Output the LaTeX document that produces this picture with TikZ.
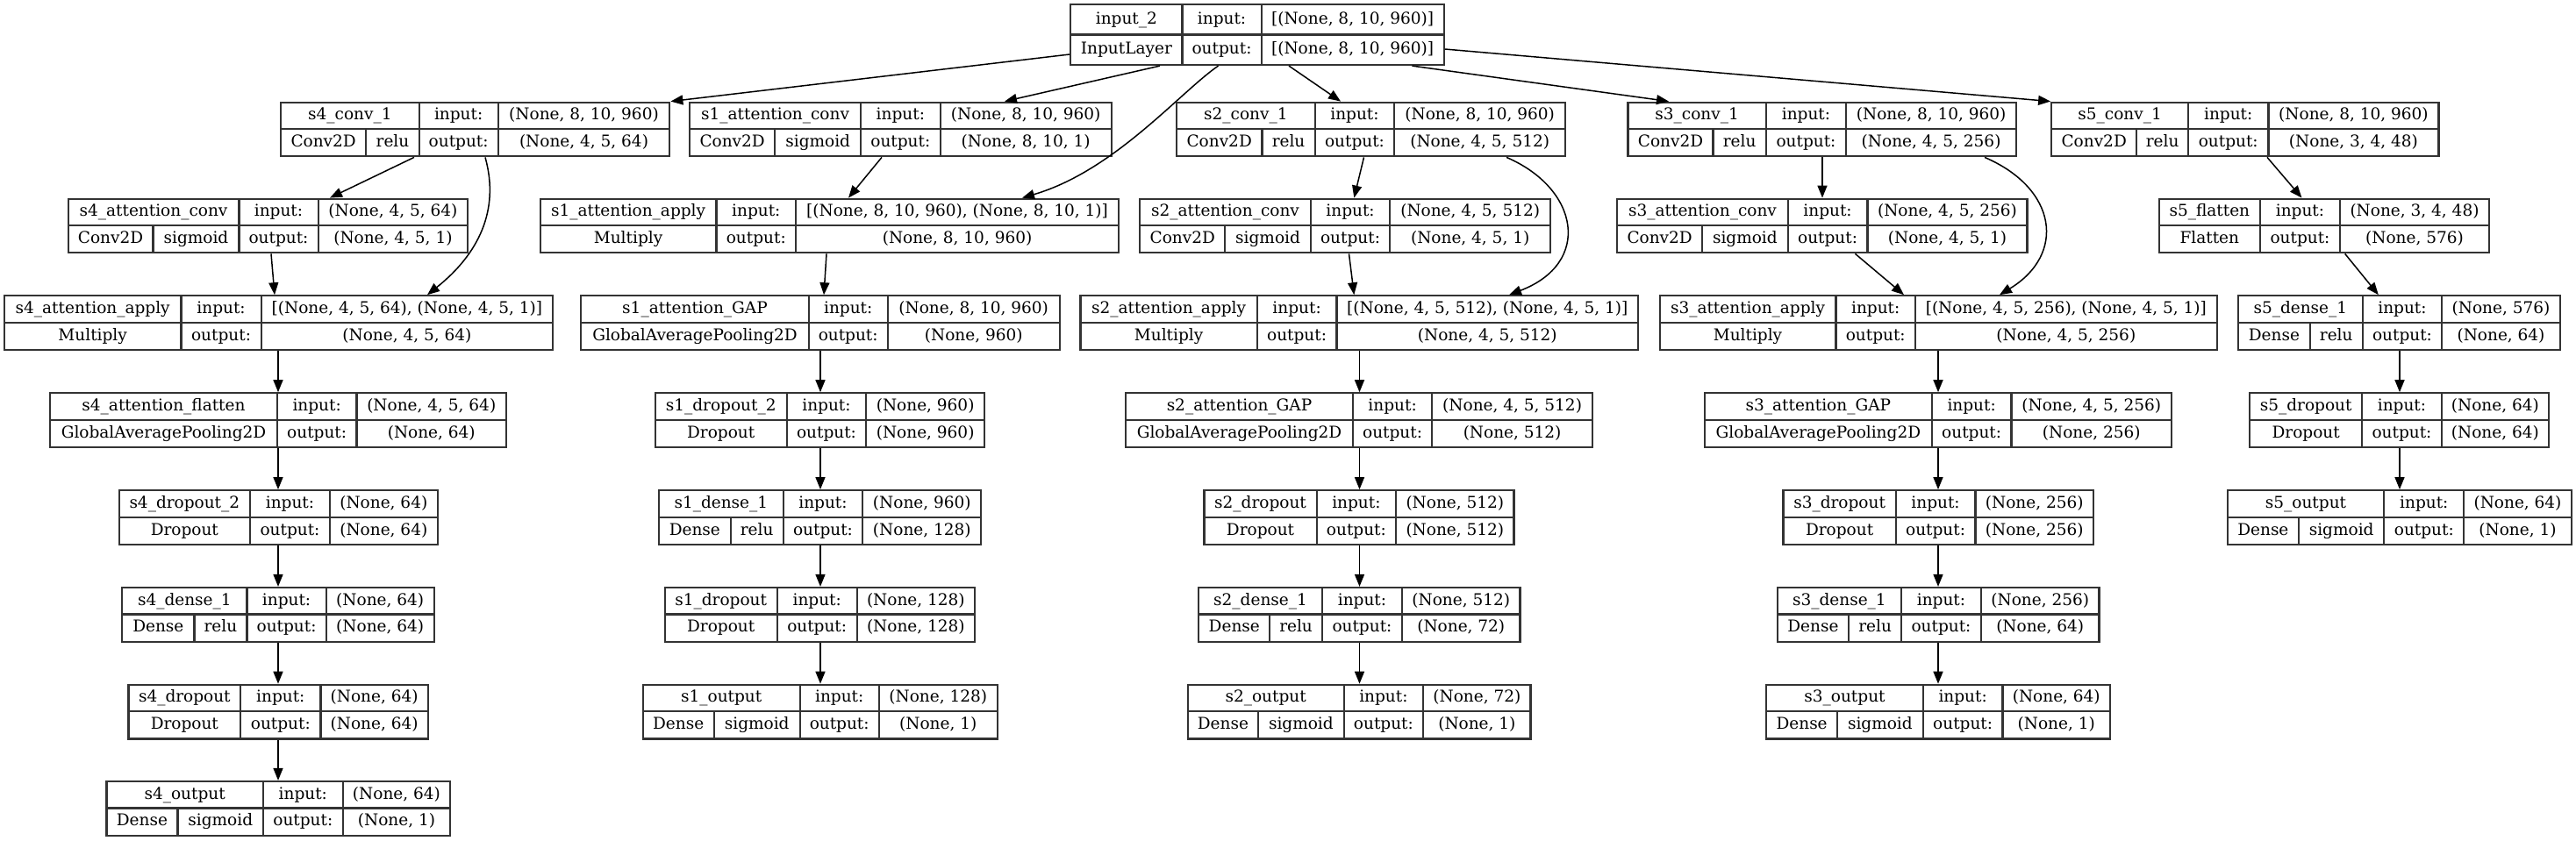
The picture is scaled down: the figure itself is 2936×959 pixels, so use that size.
\documentclass[tikz,border=0pt]{standalone}
\usepackage{fontspec}
\setmainfont{DejaVu Serif}
\usetikzlibrary{arrows.meta,fit}
\tikzset{
  kbox/.style={draw=black!80, line width=1.1pt, inner sep=0pt},
  kline/.style={draw=black!80, line width=1.1pt},
  ktext/.style={inner sep=0pt, font=\fontsize{9.25}{10}\selectfont, text=black, text height=7pt, text depth=2.2pt},
  edge/.style={line width=0.75pt, -{Triangle[length=7pt,width=5.5pt]}},
}
\newcommand\kH{61.6}
\newcommand\kMidOff{30.5}
\newcommand\kbox[6]{%
  \def\kA{#2}\def\kT{#3}\def\kB{#4}\def\kC{#5}\def\kE{#6}%
  \pgfmathsetmacro\kM{#3+\kMidOff}%
  \pgfmathsetmacro\kBot{#3+\kH}%
  \node[kbox, fit={(#2,#3) (#6,\kBot)}] (#1) {};
  \draw[kline] (#2,\kM) -- (#6,\kM) (#4,#3) -- (#4,\kBot) (#5,#3) -- (#5,\kBot);
}
\newcommand\ktxt[3]{%
  \pgfmathsetmacro\kyA{(\kT+\kM)/2}\pgfmathsetmacro\kyB{(\kM+\kBot)/2}%
  \node[ktext] at ({(\kA+\kB)/2},\kyA) {#1};
  \node[ktext] at ({(\kB+\kC)/2},\kyA) {input:};
  \node[ktext] at ({(\kC+\kE)/2},\kyA) {#2};
  \node[ktext] at ({(\kB+\kC)/2},\kyB) {output:};
  \node[ktext] at ({(\kC+\kE)/2},\kyB) {#3};
}
\newcommand\ktype[1]{\node[ktext] at ({(\kA+\kB)/2},\kyB) {#1};}
\newcommand\ktypeact[3]{%
  \draw[kline] (#1,\kM) -- (#1,\kBot);
  \node[ktext] at ({(\kA+#1)/2},\kyB) {#2};
  \node[ktext] at ({(#1+\kB)/2},\kyB) {#3};
}
\begin{document}
\begin{tikzpicture}[x=0.5pt,y=-0.5pt]
\useasboundingbox (0,0) rectangle (2936,959);
% ---------- row 0
\renewcommand\kH{69}\renewcommand\kMidOff{34.5}
\kbox{in2}{1220.2}{5}{1347.5}{1437.6}{1645.6}
\ktxt{input\_2}{[(None, 8, 10, 960)]}{[(None, 8, 10, 960)]}\ktype{InputLayer}
\renewcommand\kH{61.6}\renewcommand\kMidOff{30.5}
% ---------- row 1
\kbox{s4c1}{320}{116.7}{477.7}{567.7}{763.3}
\ktxt{s4\_conv\_1}{(None, 8, 10, 960)}{(None, 4, 5, 64)}\ktypeact{417.3}{Conv2D}{relu}
\kbox{s1ac}{786}{116.7}{981.1}{1071.6}{1266.7}
\ktxt{s1\_attention\_conv}{(None, 8, 10, 960)}{(None, 8, 10, 1)}\ktypeact{883.3}{Conv2D}{sigmoid}
\kbox{s2c1}{1341}{116.7}{1498.7}{1589.3}{1784}
\ktxt{s2\_conv\_1}{(None, 8, 10, 960)}{(None, 4, 5, 512)}\ktypeact{1438.4}{Conv2D}{relu}
\kbox{s3c1}{1855.5}{116.7}{2012.7}{2104.2}{2298}
\ktxt{s3\_conv\_1}{(None, 8, 10, 960)}{(None, 4, 5, 256)}\ktypeact{1952.5}{Conv2D}{relu}
\kbox{s5c1}{2338.2}{116.7}{2494}{2585.5}{2779.4}
\ktxt{s5\_conv\_1}{(None, 8, 10, 960)}{(None, 3, 4, 48)}\ktypeact{2435.2}{Conv2D}{relu}
% ---------- row 2
\kbox{s4ac}{77.6}{226.7}{272.4}{362.6}{533.2}
\ktxt{s4\_attention\_conv}{(None, 4, 5, 64)}{(None, 4, 5, 1)}\ktypeact{174.5}{Conv2D}{sigmoid}
\kbox{s1aa}{615.6}{226.7}{816.5}{907.1}{1275}
\ktxt{s1\_attention\_apply}{[(None, 8, 10, 960), (None, 8, 10, 1)]}{(None, 8, 10, 960)}\ktype{Multiply}
\kbox{s2ac}{1299.2}{226.7}{1493.8}{1584.3}{1767}
\ktxt{s2\_attention\_conv}{(None, 4, 5, 512)}{(None, 4, 5, 1)}\ktypeact{1396.3}{Conv2D}{sigmoid}
\kbox{s3ac}{1843.3}{226.7}{2037.7}{2128.4}{2310.5}
\ktxt{s3\_attention\_conv}{(None, 4, 5, 256)}{(None, 4, 5, 1)}\ktypeact{1940}{Conv2D}{sigmoid}
\kbox{s5f}{2460.8}{226.7}{2575.8}{2667.2}{2836.8}
\ktxt{s5\_flatten}{(None, 3, 4, 48)}{(None, 576)}\ktype{Flatten}
% ---------- row 3
\kbox{s4aa}{4.8}{337.3}{206.5}{297.6}{630.2}
\ktxt{s4\_attention\_apply}{[(None, 4, 5, 64), (None, 4, 5, 1)]}{(None, 4, 5, 64)}\ktype{Multiply}
\kbox{s1g}{662.3}{337.3}{921.7}{1011.7}{1207.7}
\ktxt{s1\_attention\_GAP}{(None, 8, 10, 960)}{(None, 960)}\ktype{GlobalAveragePooling2D}
\kbox{s2aa}{1231.4}{337.3}{1432.7}{1523.5}{1867}
\ktxt{s2\_attention\_apply}{[(None, 4, 5, 512), (None, 4, 5, 1)]}{(None, 4, 5, 512)}\ktype{Multiply}
\kbox{s3aa}{1891.6}{337.3}{2092.4}{2183.1}{2526.6}
\ktxt{s3\_attention\_apply}{[(None, 4, 5, 256), (None, 4, 5, 1)]}{(None, 4, 5, 256)}\ktype{Multiply}
\kbox{s5d1}{2551}{337.3}{2692.7}{2783.3}{2917.7}
\ktxt{s5\_dense\_1}{(None, 576)}{(None, 64)}\ktypeact{2632.7}{Dense}{relu}
% ---------- row 4
\kbox{s4af}{57}{448.3}{316}{406.4}{577.1}
\ktxt{s4\_attention\_flatten}{(None, 4, 5, 64)}{(None, 64)}\ktype{GlobalAveragePooling2D}
\kbox{s1d2}{746.7}{448.3}{896.7}{987.3}{1122}
\ktxt{s1\_dropout\_2}{(None, 960)}{(None, 960)}\ktype{Dropout}
\kbox{s2g}{1283}{448.3}{1542}{1632.2}{1815}
\ktxt{s2\_attention\_GAP}{(None, 4, 5, 512)}{(None, 512)}\ktype{GlobalAveragePooling2D}
\kbox{s3g}{1942.9}{448.3}{2201.8}{2292.5}{2475}
\ktxt{s3\_attention\_GAP}{(None, 4, 5, 256)}{(None, 256)}\ktype{GlobalAveragePooling2D}
\kbox{s5d}{2564}{448.3}{2692.3}{2782.7}{2905}
\ktxt{s5\_dropout}{(None, 64)}{(None, 64)}\ktype{Dropout}
% ---------- row 5
\kbox{s4d2}{135.7}{559.2}{285}{376}{498.6}
\ktxt{s4\_dropout\_2}{(None, 64)}{(None, 64)}\ktype{Dropout}
\kbox{s1d1}{751}{559.2}{892.7}{983.3}{1118.3}
\ktxt{s1\_dense\_1}{(None, 960)}{(None, 128)}\ktypeact{832.7}{Dense}{relu}
\kbox{s2d}{1372.5}{559.2}{1500.6}{1591.2}{1725.5}
\ktxt{s2\_dropout}{(None, 512)}{(None, 512)}\ktype{Dropout}
\kbox{s3d}{2032.5}{559.2}{2160.7}{2251.4}{2386.1}
\ktxt{s3\_dropout}{(None, 256)}{(None, 256)}\ktype{Dropout}
\kbox{s5o}{2538.7}{559.2}{2717.3}{2808.3}{2930.7}
\ktxt{s5\_output}{(None, 64)}{(None, 1)}\ktypeact{2620}{Dense}{sigmoid}
% ---------- row 6
\kbox{s4d1}{139.3}{670}{281.4}{371.8}{494.6}
\ktxt{s4\_dense\_1}{(None, 64)}{(None, 64)}\ktypeact{221.4}{Dense}{relu}
\kbox{s1d}{757.7}{670}{885.7}{976.7}{1111}
\ktxt{s1\_dropout}{(None, 128)}{(None, 128)}\ktype{Dropout}
\kbox{s2d1}{1366.3}{670}{1506.8}{1598.1}{1732.4}
\ktxt{s2\_dense\_1}{(None, 512)}{(None, 72)}\ktypeact{1447.3}{Dense}{relu}
\kbox{s3d1}{2025.7}{670}{2167.1}{2257.9}{2392.5}
\ktxt{s3\_dense\_1}{(None, 256)}{(None, 64)}\ktypeact{2107.1}{Dense}{relu}
% ---------- row 7
\kbox{s4d}{146.4}{780.8}{274.3}{365.4}{487.9}
\ktxt{s4\_dropout}{(None, 64)}{(None, 64)}\ktype{Dropout}
\kbox{s1o}{732.7}{780.8}{911.7}{1001.7}{1136.7}
\ktxt{s1\_output}{(None, 128)}{(None, 1)}\ktypeact{813.7}{Dense}{sigmoid}
\kbox{s2o}{1353.6}{780.8}{1531.6}{1622.2}{1744.5}
\ktxt{s2\_output}{(None, 72)}{(None, 1)}\ktypeact{1434.2}{Dense}{sigmoid}
\kbox{s3o}{2013.2}{780.8}{2191.8}{2282.5}{2405}
\ktxt{s3\_output}{(None, 64)}{(None, 1)}\ktypeact{2094}{Dense}{sigmoid}
% ---------- row 8
\kbox{s4o}{121.4}{891}{300}{390.7}{513.2}
\ktxt{s4\_output}{(None, 64)}{(None, 1)}\ktypeact{202.5}{Dense}{sigmoid}
% ---------- edges from input
\draw[edge] (in2.west |- 0,62) -- (s4c1.north east);
\draw[edge] (in2.south -| 1322,0) -- (s1ac.north -| 1145,0);
\draw[edge] (in2.south -| 1388.5,0) .. controls (1345,105) and (1270,195) .. (s1aa.north -| 1165,0);
\draw[edge] (in2.south -| 1469,0) -- (s2c1.north -| 1528,0);
\draw[edge] (in2.south -| 1609.5,0) -- (s3c1.north -| 1902,0);
\draw[edge] (in2.east |- 0,56) -- (s5c1.north west);
% ---------- s4
\draw[edge] (s4c1.south -| 472,0) -- (s4ac.north -| 376,0);
\draw[edge] (s4c1.south -| 553,0) .. controls (570,240) and (545,290) .. (s4aa.north -| 487,0);
\draw[edge] (s4ac.south -| 309,0) -- (s4aa.north -| 313,0);
\draw[edge] (s4aa.south -| 317,0) -- (s4af.north -| 317,0);
\draw[edge] (s4af.south -| 317,0) -- (s4d2.north -| 317,0);
\draw[edge] (s4d2.south -| 317,0) -- (s4d1.north -| 317,0);
\draw[edge] (s4d1.south -| 317,0) -- (s4d.north -| 317,0);
\draw[edge] (s4d.south -| 317,0) -- (s4o.north -| 317,0);
% ---------- s1
\draw[edge] (s1ac.south -| 1005,0) -- (s1aa.north -| 967,0);
\draw[edge] (s1aa.south -| 942,0) -- (s1g.north -| 939,0);
\draw[edge] (s1g.south -| 935,0) -- (s1d2.north -| 935,0);
\draw[edge] (s1d2.south -| 935,0) -- (s1d1.north -| 935,0);
\draw[edge] (s1d1.south -| 935,0) -- (s1d.north -| 935,0);
\draw[edge] (s1d.south -| 935,0) -- (s1o.north -| 935,0);
% ---------- s2
\draw[edge] (s2c1.south -| 1554.5,0) -- (s2ac.north -| 1543.3,0);
\draw[edge] (s2c1.south -| 1717,0) .. controls (1800,215) and (1815,300) .. (s2aa.north -| 1720,0);
\draw[edge] (s2ac.south -| 1537.5,0) -- (s2aa.north -| 1543.3,0);
\draw[edge] (s2aa.south -| 1549.5,0) -- (s2g.north -| 1549.5,0);
\draw[edge] (s2g.south -| 1549.5,0) -- (s2d.north -| 1549.5,0);
\draw[edge] (s2d.south -| 1549.5,0) -- (s2d1.north -| 1549.5,0);
\draw[edge] (s2d1.south -| 1549.5,0) -- (s2o.north -| 1549.5,0);
% ---------- s3
\draw[edge] (s3c1.south -| 2077,0) -- (s3ac.north -| 2077,0);
\draw[edge] (s3c1.south -| 2262,0) .. controls (2345,215) and (2355,290) .. (s3aa.north -| 2279,0);
\draw[edge] (s3ac.south -| 2114.5,0) -- (s3aa.north -| 2170,0);
\draw[edge] (s3aa.south -| 2209,0) -- (s3g.north -| 2209,0);
\draw[edge] (s3g.south -| 2209,0) -- (s3d.north -| 2209,0);
\draw[edge] (s3d.south -| 2209,0) -- (s3d1.north -| 2209,0);
\draw[edge] (s3d1.south -| 2209,0) -- (s3o.north -| 2209,0);
% ---------- s5
\draw[edge] (s5c1.south -| 2584,0) -- (s5f.north -| 2623.5,0);
\draw[edge] (s5f.south -| 2672.7,0) -- (s5d1.north -| 2710.8,0);
\draw[edge] (s5d1.south -| 2735,0) -- (s5d.north -| 2735,0);
\draw[edge] (s5d.south -| 2735,0) -- (s5o.north -| 2735,0);
\end{tikzpicture}
\end{document}
